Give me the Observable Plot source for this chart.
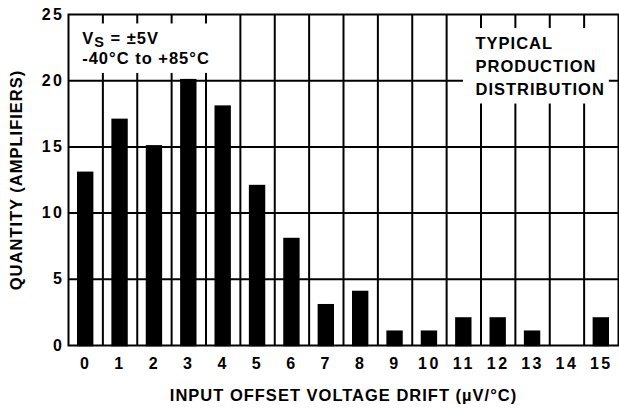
<!DOCTYPE html>
<html>
<head>
<meta charset="utf-8">
<script src="https://cdn.jsdelivr.net/npm/d3@7"></script>
<script src="https://cdn.jsdelivr.net/npm/@observablehq/plot@0.6"></script>
<style>
html, body { margin: 0; padding: 0; background: #fff; }
svg g[aria-label$="tick label"] text { letter-spacing: 2.5px; }
</style>
</head>
<body>
<div id="chart"></div>
<script>
// ---- data ----
const drift = [0, 1, 2, 3, 4, 5, 6, 7, 8, 9, 10, 11, 12, 13, 14, 15];
const quantity = [13, 17, 15, 20, 18, 12, 8, 3, 4, 1, 1, 2, 2, 1, 0, 2];
const yTicks = [0, 5, 10, 15, 20, 25];
const gridY = [5, 10, 15, 20];
const xLabel = "INPUT OFFSET VOLTAGE DRIFT (µV/°C)";
const yLabel = "QUANTITY (AMPLIFIERS)";
const note1 = "VS = ±5V\n-40°C to +85°C";
const note2 = "TYPICAL\nPRODUCTION\nDISTRIBUTION";

const table = drift.map((d, i) => ({drift: d, n: quantity[i]}));
const font = '"Liberation Sans", Arial, Helvetica, sans-serif';

const chart = Plot.plot({
  width: 619,
  height: 408,
  marginLeft: 68,
  marginRight: 1,
  marginTop: 14,
  marginBottom: 63,
  style: {fontFamily: font, fontWeight: "bold", fontSize: "16.5px", color: "#000", background: "#fff", letterSpacing: "1px"},
  x: {domain: [-0.5, 15.5]},
  y: {domain: [0, 25]},
  marks: [
    Plot.ruleX(drift.slice(1), {x: d => d - 0.5, stroke: "#000", strokeWidth: 2}),
    Plot.ruleY(gridY, {stroke: "#000", strokeWidth: 2}),
    Plot.rect(table, {filter: d => d.n > 0, x1: d => d.drift - 0.5, x2: d => d.drift + 0.5, y1: 0, y2: "n", fill: "#000",
      insetLeft: 9, insetRight: 9, insetTop: -1.3, insetBottom: -1.3}),
    Plot.text([note1], {text: d => d, frameAnchor: "top-left", textAnchor: "start", lineAnchor: "top",
      lineHeight: 1.21, dx: 13.7, dy: 15.3, fill: "#000"}),
    Plot.text([note2], {text: d => d, frameAnchor: "top-right", textAnchor: "start", lineAnchor: "top",
      lineHeight: 1.394, dx: -143, dy: 17.7, fill: "#000"}),
    Plot.frame({stroke: "#000", strokeWidth: 2}),
    Plot.axisX(drift, {tickSize: 0, tickPadding: 12, fontSize: 16, label: null}),
    Plot.axisY(yTicks, {tickSize: 0, tickPadding: 4, fontSize: 16, label: null}),
    Plot.text([xLabel], {text: d => d, frameAnchor: "bottom", textAnchor: "middle", lineAnchor: "middle", dy: 49.8, fill: "#000"}),
    Plot.text([yLabel], {text: d => d, frameAnchor: "left", textAnchor: "middle", rotate: -90, lineAnchor: "middle", dx: -52.2, fill: "#000"})
  ]
});

document.getElementById("chart").appendChild(chart);

const ns = "http://www.w3.org/2000/svg";
// subscript S in "VS"
chart.querySelectorAll("text, tspan").forEach(el => {
  if (el.children.length === 0 && el.textContent === "VS = ±5V") {
    el.textContent = "V";
    const s = document.createElementNS(ns, "tspan");
    s.setAttribute("dy", "3.5");
    s.setAttribute("font-size", "14.5");
    s.textContent = "S";
    const r = document.createElementNS(ns, "tspan");
    r.setAttribute("dy", "-3.5");
    r.textContent = " = ±5V";
    el.append(s, r);
  }
});

// white boxes behind the notes
const noteKeys = [note1.split("\n")[1], note2.split("\n")[0]];
Array.from(chart.querySelectorAll("text")).forEach(t => {
  const content = t.textContent;
  if (!noteKeys.some(k => content.includes(k))) return;
  const b = t.getBBox();
  const rect = document.createElementNS(ns, "rect");
  rect.setAttribute("x", b.x - 12.5);
  rect.setAttribute("y", b.y - 5.5);
  rect.setAttribute("width", b.width + 16.5);
  rect.setAttribute("height", b.height + 11.5);
  rect.setAttribute("fill", "#fff");
  const tr = t.getAttribute("transform");
  if (tr) rect.setAttribute("transform", tr);
  t.parentNode.insertBefore(rect, t);
});
</script>
</body>
</html>
